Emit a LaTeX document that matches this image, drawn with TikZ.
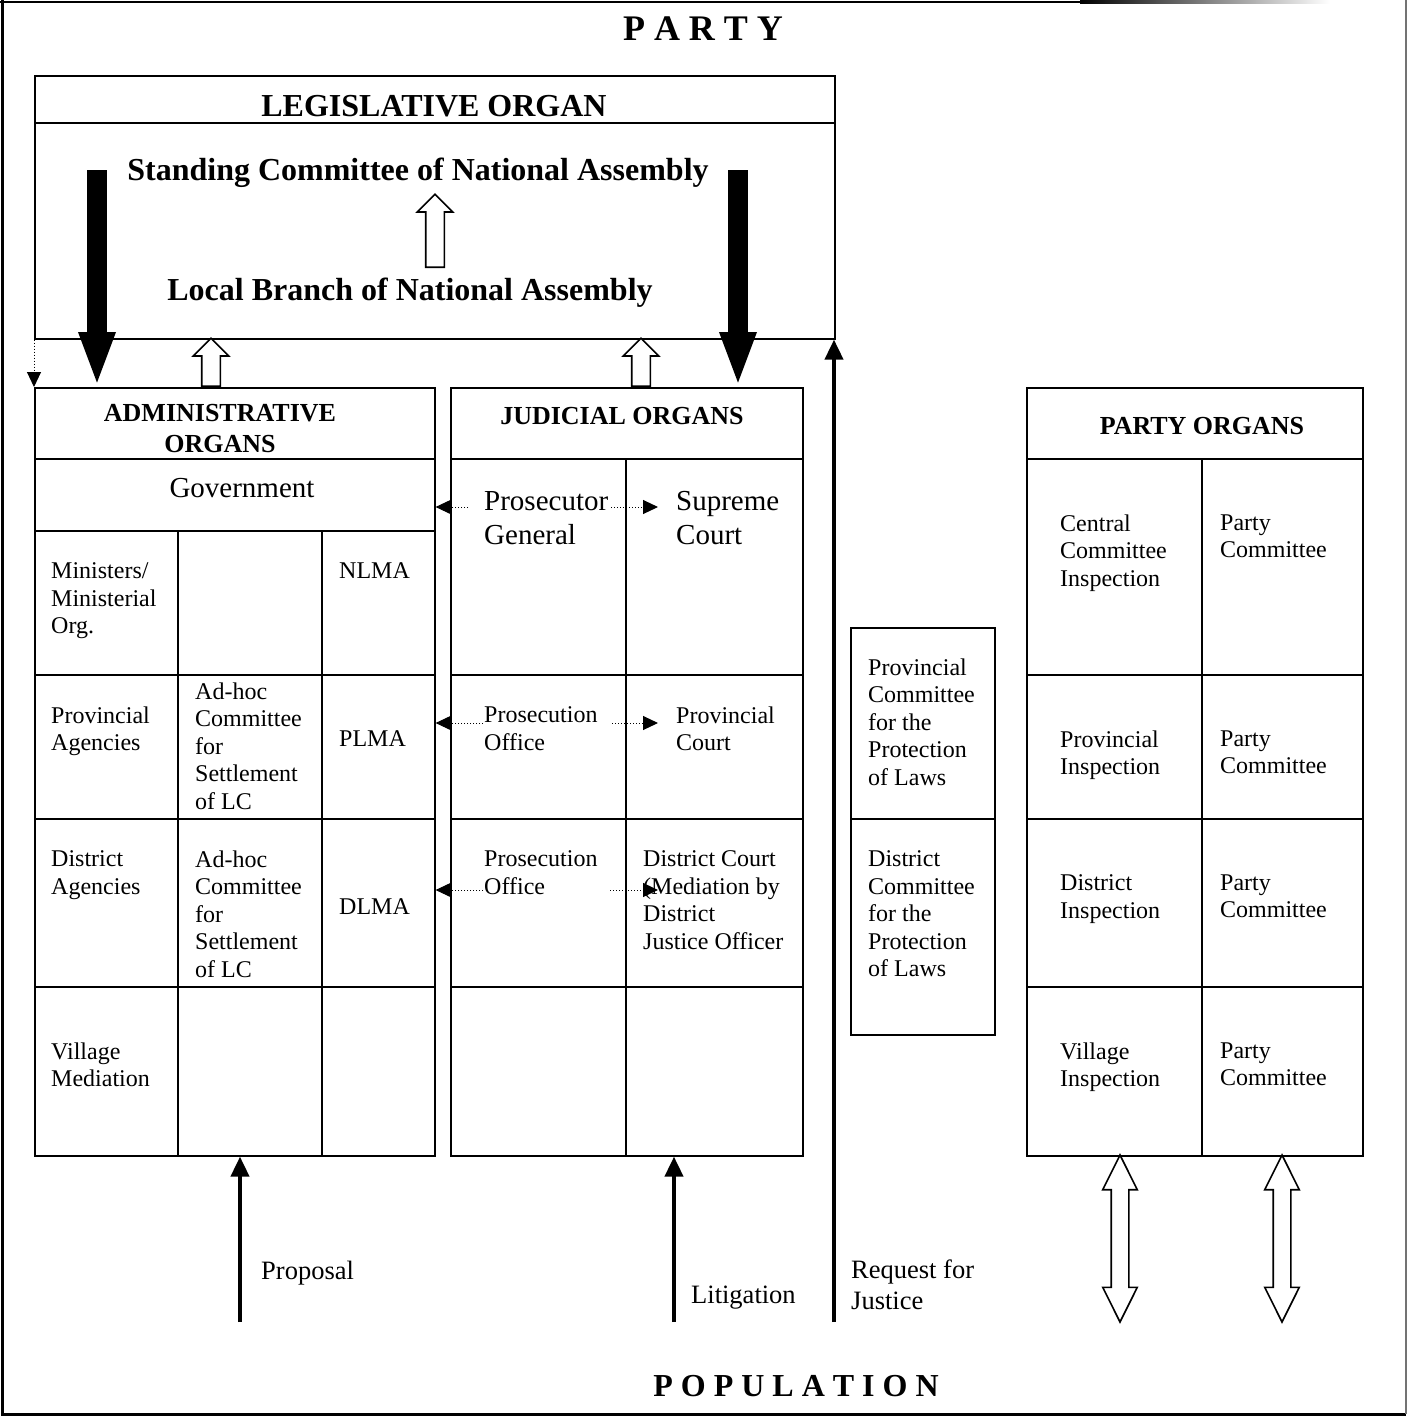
\documentclass[tikz,border=0pt]{standalone}
\usepackage{fontspec}
\setmainfont{Liberation Serif}
\usepackage{tikz}
\usetikzlibrary{shapes,arrows.meta,positioning,calc}

\begin{document}
\begin{tikzpicture}[
    x=1pt, y=-1pt,
    box/.style={draw, rectangle, line width=1.6pt, anchor=north west, inner sep=0pt},
    rule/.style={line width=1.6pt},
    cell/.style={anchor=north west, inner sep=0pt, align=left, font=\fontsize{24}{27.5}\selectfont},
    bigcell/.style={anchor=north west, inner sep=0pt, align=left, font=\fontsize{29}{34}\selectfont},
    head/.style={anchor=base, inner sep=0pt, align=center, font=\fontsize{26}{31}\selectfont\bfseries},
    title/.style={anchor=base, inner sep=0pt, font=\fontsize{32}{36}\selectfont\bfseries},
    label/.style={anchor=base west, inner sep=0pt, align=left, font=\fontsize{26.5}{31}\selectfont},
    bigarrow/.style={line width=20pt, -{Triangle[width=33pt,length=55pt]}},
    arrow/.style={line width=4pt, -{Triangle[width=18pt,length=20pt]}},
    dotarrow/.style={line width=1pt, dash pattern=on 1pt off 2pt, -{Triangle[width=14pt,length=15pt]}},
    hollow/.style={draw, fill=white, line width=1.6pt, single arrow, shape border rotate=90,
        single arrow head extend=8.5pt, inner sep=8.5pt},
    twoway/.style={draw, fill=white, line width=1.6pt, double arrow, shape border rotate=90,
        double arrow head extend=8.5pt, double arrow tip angle=53, inner sep=8pt, minimum height=167pt}
]
    \useasboundingbox (0,0) rectangle (1408,1417);

    % Frame
    \draw[line width=3pt] (2,0) -- (2,1414) -- (1406,1414);
    \draw[line width=2pt, black!55] (1406,0) -- (1406,1414);
    \draw[line width=2.5pt] (0,2) -- (1080,2);
    \shade[left color=black, right color=white] (1080,0.75) rectangle (1330,3.25);

    \node[anchor=base, inner sep=0pt, font=\fontsize{36}{40}\selectfont\bfseries] (party) at (703,40) {P A R T Y};
    \node[anchor=base, inner sep=0pt, font=\fontsize{32}{36}\selectfont\bfseries] (population) at (796,1396) {P O P U L A T I O N};

    % Legislative organ
    \node[box, minimum width=800pt, minimum height=263pt] (leg) at (34,75) {};
    \draw[rule] (34,123) -- (834,123);
    \node[title] (legname) at (434,116) {LEGISLATIVE ORGAN};
    \node[title] (standing) at (418,180) {Standing Committee of National Assembly};
    \node[title] (local) at (410,300) {Local Branch of National Assembly};
    \node[hollow, minimum height=73pt, anchor=tail] (uplocal) at (435,268) {};

    % Administrative organs
    \node[box, minimum width=400pt, minimum height=768pt] (admin) at (34,387) {};
    \draw[rule] (34,459) -- (434,459);
    \draw[rule] (34,531) -- (434,531);
    \draw[rule] (34,675) -- (434,675);
    \draw[rule] (34,819) -- (434,819);
    \draw[rule] (34,987) -- (434,987);
    \draw[rule] (178,531) -- (178,1155);
    \draw[rule] (322,531) -- (322,1155);
    \node[head, anchor=north] (adminname) at (220,404) {ADMINISTRATIVE\\ORGANS};
    \node[anchor=base, inner sep=0pt, font=\fontsize{29}{34}\selectfont] (gov) at (242,497) {Government};
    \node[cell] (ministers) at (51,562.5) {Ministers/\\Ministerial\\Org.};
    \node[cell] (nlma) at (339,562.5) {NLMA};
    \node[cell] (provag) at (51,706.5) {Provincial\\Agencies};
    \node[cell] (adhocp) at (195,682.5) {Ad-hoc\\Committee\\for\\Settlement\\of LC};
    \node[cell] (plma) at (339,730.5) {PLMA};
    \node[cell] (distag) at (51,850.5) {District\\Agencies};
    \node[cell] (adhocd) at (195,850.5) {Ad-hoc\\Committee\\for\\Settlement\\of LC};
    \node[cell] (dlma) at (339,898.5) {DLMA};
    \node[cell] (village) at (51,1042.5) {Village\\Mediation};

    % Judicial organs
    \node[box, minimum width=352pt, minimum height=768pt] (jud) at (450,387) {};
    \draw[rule] (450,459) -- (802,459);
    \draw[rule] (450,675) -- (802,675);
    \draw[rule] (450,819) -- (802,819);
    \draw[rule] (450,987) -- (802,987);
    \draw[rule] (626,459) -- (626,1155);
    \node[head] (judname) at (622,424) {JUDICIAL ORGANS};
    \node[bigcell] (prosgen) at (484,491.5) {Prosecutor\\General};
    \node[bigcell] (supreme) at (676,491.5) {Supreme\\Court};
    \node[cell] (prosprov) at (484,706.5) {Prosecution\\Office};
    \node[cell] (provcourt) at (676,706.5) {Provincial\\Court};
    \node[cell] (prosdist) at (484,850.5) {Prosecution\\Office};
    \node[cell] (distcourt) at (643,850.5) {District Court\\(Mediation by\\District\\Justice Officer};

    % Committees for the protection of laws
    \node[box, minimum width=144pt, minimum height=407pt] (comm) at (850,627) {};
    \draw[rule] (850,819) -- (994,819);
    \node[cell] (provcomm) at (868,658.5) {Provincial\\Committee\\for the\\Protection\\of Laws};
    \node[cell] (distcomm) at (868,850.5) {District\\Committee\\for the\\Protection\\of Laws};

    % Party organs
    \node[box, minimum width=336pt, minimum height=768pt] (porg) at (1026,387) {};
    \draw[rule] (1026,459) -- (1362,459);
    \draw[rule] (1026,675) -- (1362,675);
    \draw[rule] (1026,819) -- (1362,819);
    \draw[rule] (1026,987) -- (1362,987);
    \draw[rule] (1202,459) -- (1202,1155);
    \node[head] (porgname) at (1202,434) {PARTY ORGANS};
    \node[cell] (centinsp) at (1060,514.5) {Central\\Committee\\Inspection};
    \node[cell] (pcomc) at (1220,514.5) {Party\\Committee};
    \node[cell] (provinsp) at (1060,730.5) {Provincial\\Inspection};
    \node[cell] (pcomp) at (1220,730.5) {Party\\Committee};
    \node[cell] (distinsp) at (1060,874.5) {District\\Inspection};
    \node[cell] (pcomd) at (1220,874.5) {Party\\Committee};
    \node[cell] (villinsp) at (1060,1042.5) {Village\\Inspection};
    \node[cell] (pcomv) at (1220,1042.5) {Party\\Committee};

    % Arrows
    \coordinate (lawL) at (97,170);
    \coordinate (lawR) at (738,170);
    \draw[bigarrow] (lawL) -- (lawL |- admin.north);
    \draw[bigarrow] (lawR) -- (lawR |- jud.north);
    \node[hollow, minimum height=48pt, anchor=tail] (upadmin) at (211,387) {};
    \node[hollow, minimum height=48pt, anchor=tail] (upjud) at (641,387) {};
    \draw[dotarrow] (leg.south west) -- (admin.north west);

    \coordinate (pgL) at (468,507);
    \coordinate (pgR) at (611,507);
    \coordinate (ppL) at (483,723);
    \coordinate (ppR) at (612,723);
    \coordinate (pdL) at (483,890);
    \coordinate (pdR) at (610,890);
    \draw[dotarrow] (pgL) -- (pgL -| admin.east);
    \draw[dotarrow] (pgR) -- ++(47,0);
    \draw[dotarrow] (ppL) -- (ppL -| admin.east);
    \draw[dotarrow] (ppR) -- ++(46,0);
    \draw[dotarrow] (pdL) -- (pdL -| admin.east);
    \draw[dotarrow] (pdR) -- ++(48,0);

    \coordinate (prop) at (240,1322);
    \coordinate (litig) at (674,1322);
    \coordinate (req) at (834,1322);
    \draw[arrow] (prop) -- (prop |- admin.south);
    \draw[arrow] (litig) -- (litig |- jud.south);
    \draw[arrow] (req) -- (req |- leg.south);
    \node[label] (proposal) at (261,1279) {Proposal};
    \node[label] (litigation) at (691,1303) {Litigation};
    \node[anchor=north west, inner sep=0pt, align=left, font=\fontsize{26.5}{31}\selectfont] (request) at (851,1259.5) {Request for\\Justice};

    \node[twoway] (partyup1) at (1120,1238.5) {};
    \node[twoway] (partyup2) at (1282,1238.5) {};
\end{tikzpicture}
\end{document}
